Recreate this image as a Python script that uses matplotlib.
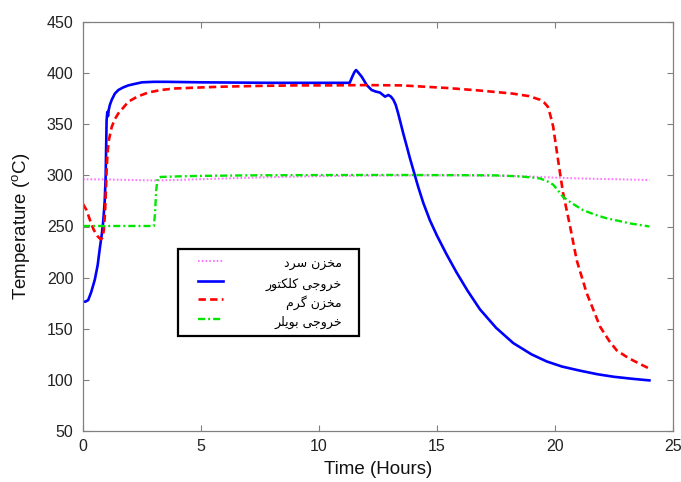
import matplotlib
matplotlib.use('Agg')
import matplotlib.pyplot as plt
from matplotlib.lines import Line2D
from matplotlib.patches import Rectangle

plt.rcParams['font.family'] = ['Liberation Sans', 'DejaVu Sans']
plt.rcParams['mathtext.fontset'] = 'custom'
plt.rcParams['mathtext.rm'] = 'Liberation Sans'

# cold tank (dotted magenta)
t_cold = [0, 1, 2, 3, 4, 5, 6, 8, 10, 12, 14, 16, 18, 19, 20, 21, 22, 23, 24]
T_cold = [296.2, 296, 295.5, 295, 295.5, 296.3, 297, 298.3, 299.3, 299.8, 300, 300,
          299.5, 298.8, 297.8, 297, 296.5, 296, 295.5]

# collector outlet (solid blue)
t_col = [0, 0.1, 0.22, 0.35, 0.5, 0.62, 0.72, 0.8, 0.86, 0.92, 0.96, 1.0, 1.03, 1.06,
         1.09, 1.14, 1.22, 1.35, 1.5, 1.7, 1.92, 2.2, 2.5, 3.0, 3.5, 5, 8, 11.3, 11.4,
         11.5, 11.57, 11.65, 11.81, 12.02, 12.23, 12.4, 12.58, 12.8, 12.94, 13.05, 13.15,
         13.25, 13.35, 13.45, 13.57, 13.7, 13.85, 14.0, 14.2, 14.42, 14.7, 15.0, 15.4, 15.83,
         16.3, 16.82, 17.5, 18.23, 19.0, 19.65, 20.3, 21.06, 21.8, 22.5, 23.3, 24.0]
T_col = [176.5, 176.5, 178, 186, 198, 212, 230, 243, 256, 275, 299, 354, 362, 358,
         364, 369, 374, 380, 383.5, 386, 388, 389.5, 391, 391.5, 391.5, 391, 390.5, 390.5, 396,
         401, 403, 401, 396.5, 388.4, 383.5, 382, 381, 377, 378.6, 377, 374,
         369, 361, 352, 341, 330, 317, 305, 289, 273, 256, 241, 223, 205,
         187, 169, 151, 136, 125, 118, 113, 109, 105.5, 103, 101, 99.5]

# hot tank (dashed red)
t_hot = [0, 0.15, 0.3, 0.45, 0.6, 0.7, 0.76, 0.82, 0.88, 0.93, 0.97, 1.0, 1.04, 1.1,
         1.22, 1.35, 1.5, 1.7, 1.92, 2.3, 2.76, 3.3, 3.9, 5, 6, 7.5, 9, 10.5, 12, 13.5,
         15.4, 16.8, 18.2, 18.9, 19.36, 19.55, 19.7, 19.8, 19.92, 20.13, 20.34, 20.64,
         20.92, 21.34, 21.91, 22.3, 22.61, 23.0, 23.31, 23.65, 24.0]
T_hot = [272, 266, 256, 247, 241, 238.5, 237.5, 239, 246, 262, 285, 305, 322, 335,
         347.6, 355, 360.7, 366, 372, 377, 381, 383.5, 385, 386, 386.8, 387.5, 388, 388, 388.3, 388,
         385.5, 383, 380, 377.5, 374, 371, 367, 359, 348, 315, 283, 250,
         217, 185, 152, 138, 129, 123, 119, 115, 111]

# boiler outlet (dash-dot green)
t_boil = [0, 1, 2, 3.0, 3.05, 3.1, 3.16, 3.3, 4, 5, 7, 10, 13, 16, 17.5, 18.5, 19.0,
          19.36, 19.65, 19.92, 20.1, 20.34, 20.7, 21.19, 21.7, 22.19, 22.7, 23.18, 23.6, 24.0]
T_boil = [250.5, 250.5, 250.5, 250.5, 262, 285, 297, 298.5, 299, 299.5, 300, 300.3, 300.4,
          300.2, 300, 299, 298, 297, 294.5, 291, 286, 279, 273, 266, 261.5, 258, 255.5,
          253, 251.5, 250]

# legend labels, shaped by hand (presentation forms, visual order) since matplotlib has no RTL shaping
labels = ['\ufea9\ufeae\ufeb3 \ufee5\ufeb0\ufea8\ufee3',                          # مخزن سرد
          '\ufead\ufeee\ufe98\ufb91\ufee0\ufb90 \ufbfd\ufe9f\ufeed\ufeae\ufea7',  # خروجی کلکتور
          '\ufee1\ufeae\ufb94 \ufee5\ufeb0\ufea8\ufee3',                          # مخزن گرم
          '\ufeae\ufee0\ufbfe\ufeee\ufe91 \ufbfd\ufe9f\ufeed\ufeae\ufea7']        # خروجی بویلر

colors = ['#ff77ff', '#0000ff', '#ff0000', '#00e600']
widths = [1.5, 1.9, 1.9, 1.7]
styles = [(0, (0.8, 1.0)), '-', (0, (2.8, 1.6)), (0, (3.0, 1.3, 0.8, 1.3))]

fig = plt.figure(figsize=(6.81, 4.82), dpi=100)
ax = fig.add_axes([83/681, 51/482, 590/681, 409/482])

series = [(t_cold, T_cold), (t_col, T_col), (t_hot, T_hot), (t_boil, T_boil)]
for (t, T), c, w, s in zip(series, colors, widths, styles):
    ax.plot(t, T, color=c, lw=w, linestyle=s)

ax.set_xlim(0, 25)
ax.set_ylim(50, 450)
ax.set_xticks([0, 5, 10, 15, 20, 25])
ax.set_yticks(range(50, 451, 50))
ax.tick_params(direction='in', length=4, width=0.8, color='#808080',
               top=True, right=True, labelsize=11.5, labelcolor='#222222')
ax.tick_params(axis='x', pad=6)
ax.tick_params(axis='y', pad=7)
for s in ax.spines.values():
    s.set_color('#808080')
    s.set_linewidth(0.9)

ax.set_xlabel('Time (Hours)', fontsize=13.5, color='#111111', labelpad=5)
ax.set_ylabel('Temperature ($^{\\rm o}$C)', fontsize=13.5, color='#111111', labelpad=10)

# legend drawn by hand so the Persian text can be right aligned
ax.add_patch(Rectangle((0.161, 0.232), 0.307, 0.213, transform=ax.transAxes,
                       facecolor='white', edgecolor='black', lw=1.6, zorder=5))
ys = [0.4156, 0.3667, 0.3227, 0.2738]
for c, w, s, lab, y in zip(colors, widths, styles, labels, ys):
    ax.add_line(Line2D([0.1954, 0.2378], [y, y], transform=ax.transAxes,
                       color=c, lw=w, linestyle=s, zorder=6))
    ax.text(0.4385, y - 0.009, lab, transform=ax.transAxes, ha='right', va='center',
            fontsize=9, family='DejaVu Sans', zorder=6)

plt.savefig('out.png', dpi=100)
